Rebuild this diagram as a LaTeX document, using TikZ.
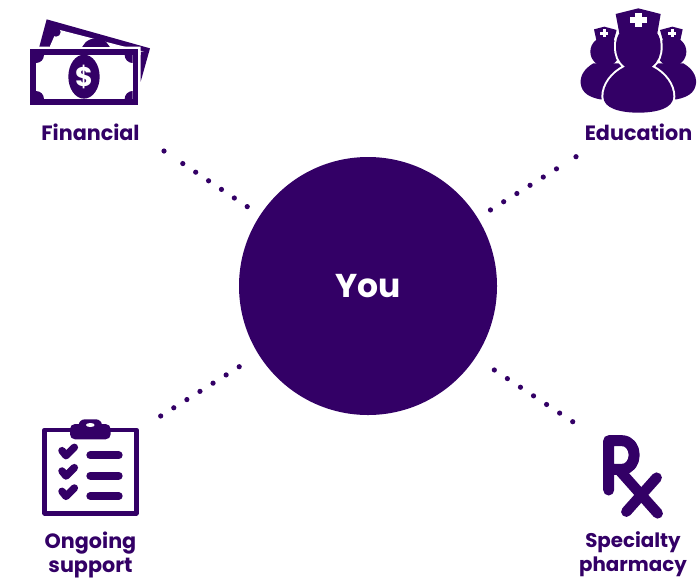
\documentclass[tikz,border=0pt]{standalone}
\usepackage{fontspec}
\setmainfont{Poppins}
\definecolor{brand}{HTML}{330066}
\tikzset{
  x=1pt,y=-1pt,
  dotline/.style={brand,line width=5.2pt,line cap=round},
  label/.style={text=brand,font=\fontsize{20.7}{24}\selectfont\bfseries,align=center,inner sep=0pt},
  smalllabel/.style={text=brand,font=\fontsize{19.8}{24}\selectfont\bfseries,align=center,inner sep=0pt},
  ink/.style={fill=brand,draw=none},
  hole/.style={fill=white,draw=none},
  zoomed/.style={x=0.33333pt,y=-0.33333pt},
}
\begin{document}
\begin{tikzpicture}
\useasboundingbox (0,0) rectangle (700,579);
% centre
\node[circle,fill=brand,minimum size=258pt,inner sep=0pt,text=white,font=\fontsize{33}{36}\selectfont\bfseries] (you) at (368,286) {You};
% labels
\node[label] (fin) at (90.5,132.5) {Financial};
\node[label] (edu) at (638.5,132.5) {Education};
\node[label] (ong) at (90.5,554.5) {Ongoing\\support};
\node[smalllabel] (spe) at (633,554.5) {Specialty\\pharmacy};
% connector ends
\coordinate (f1) at (164,151); \coordinate (f2) at (247.5,206.8);
\coordinate (e1) at (576,156.7); \coordinate (e2) at (490.2,210.1);
\coordinate (o1) at (160.7,416); \coordinate (o2) at (239.4,366.6);
\coordinate (s1) at (572.7,421.7); \coordinate (s2) at (494.2,369.9);
\draw[dotline,dash pattern=on 0pt off 22.6pt on 0pt off 15.5pt on 0pt off 15.5pt on 0pt off 15.5pt on 0pt off 15.5pt on 0pt off 15.5pt on 0pt off 99pt] (f1) -- (f2);
\draw[dotline,dash pattern=on 0pt off 23pt on 0pt off 15.55pt on 0pt off 15.55pt on 0pt off 15.55pt on 0pt off 15.55pt on 0pt off 15.55pt on 0pt off 99pt] (e1) -- (e2);
\draw[dotline,dash pattern=on 0pt off 15.45pt] (o1) -- (o2);
\draw[dotline,dash pattern=on 0pt off 15.65pt] (s1) -- (s2);
% money icon
\begin{scope}[shift={(20,10)},zoomed]
  \fill[ink] (80,28) -- (390,115) -- (362,215) -- (362,110) -- (58,110) -- cycle;
  \fill[hole] (112,58) -- (372,125) -- (362,125) -- (362,135) -- (90,135) -- (90,108) -- cycle;
  \fill[ink] (108,66) circle (14);
  \fill[ink] (228,125) ellipse (44 and 40);
  \fill[hole] (30,112) rectangle (361,285);
  \fill[ink] (30,118) rectangle (355,285);
  \fill[hole] (48,135) rectangle (338,267);
  \begin{scope}
    \clip (48,135) rectangle (338,267);
    \foreach \cx/\cy in {48/135,338/135,48/267,338/267}{\fill[ink] (\cx,\cy) circle (24);}
  \end{scope}
  \fill[ink] (192,200) ellipse (47 and 66);
  \node[text=white,font=\fontsize{27}{27}\selectfont\bfseries,inner sep=0pt] (dollar) at (192,200) {\$};
\end{scope}
% nurses icon
\begin{scope}[shift={(570,0)},zoomed]
  \foreach \side in {1,-1}{
    \begin{scope}[shift={(205,0)},xscale=\side]
      \fill[ink] (-133,88) -- (-102,80) -- (-65,90) -- (-75,125) -- (-125,125) -- cycle;
      \fill[ink] (-100,155) circle (44);
      \fill[ink] (-135,190) .. controls (-160,205) and (-175,225) .. (-173,250)
        .. controls (-170,280) and (-145,292) .. (-115,298) -- (-60,298) -- (-50,190) -- cycle;
      \fill[hole] (-107,88) rectangle (-97,112);
      \fill[hole] (-114,95) rectangle (-90,105);
    \end{scope}
  }
  \path[ink,draw=white,line width=4pt]
    (165,200) .. controls (125,220) and (100,255) .. (100,290)
    .. controls (100,325) and (150,338) .. (205,338)
    .. controls (260,338) and (310,325) .. (310,290)
    .. controls (310,255) and (285,220) .. (245,200)
    .. controls (265,185) and (272,165) .. (272,140)
    .. controls (272,120) and (268,110) .. (262,100)
    -- (272,42) -- (205,25) -- (137,42) -- (148,100) .. controls (142,110) and (138,120) .. (138,140)
    .. controls (138,165) and (145,185) .. (165,200) -- cycle;
  \fill[ink] (165,200) .. controls (125,220) and (100,255) .. (100,290)
    .. controls (100,325) and (150,338) .. (205,338)
    .. controls (260,338) and (310,325) .. (310,290)
    .. controls (310,255) and (285,220) .. (245,200)
    .. controls (265,185) and (272,165) .. (272,140)
    .. controls (272,120) and (268,110) .. (262,100)
    -- (272,42) -- (205,25) -- (137,42) -- (148,100) .. controls (142,110) and (138,120) .. (138,140)
    .. controls (138,165) and (145,185) .. (165,200) -- cycle;
  \fill[hole] (196,40) rectangle (215,80);
  \fill[hole] (181,51) rectangle (230,69);
\end{scope}
% clipboard icon
\begin{scope}[shift={(30,410)},zoomed]
  \draw[brand,line width=4.6pt,line join=round,fill=white] (44,60) rectangle (319,310);
  \fill[ink,rounded corners=5pt] (120,42) rectangle (242,88);
  \fill[ink,rounded corners=6pt] (146,28) rectangle (216,60);
  \fill[hole] (181,45) ellipse (13 and 6);
  \foreach \y in {0,61,122}{
    \draw[brand,line width=7.5pt,line cap=round,line join=round] (96,122+\y) -- (108,137+\y) -- (133,112+\y);
    \draw[brand,line width=8pt,line cap=round] (181,136+\y) -- (266,136+\y);
  }
\end{scope}
% Rx icon
\begin{scope}[shift={(570,425)},zoomed]
  \draw[brand,line width=11pt,line cap=round,line join=round]
    (116,195) -- (116,47) -- (155,47) .. controls (205,47) and (205,133) .. (155,133) -- (125,133);
  \draw[brand,line width=10.5pt,line cap=round] (150,138) -- (263,265);
  \draw[brand,line width=10.5pt,line cap=round] (260,158) -- (169,260);
\end{scope}
\end{tikzpicture}
\end{document}
